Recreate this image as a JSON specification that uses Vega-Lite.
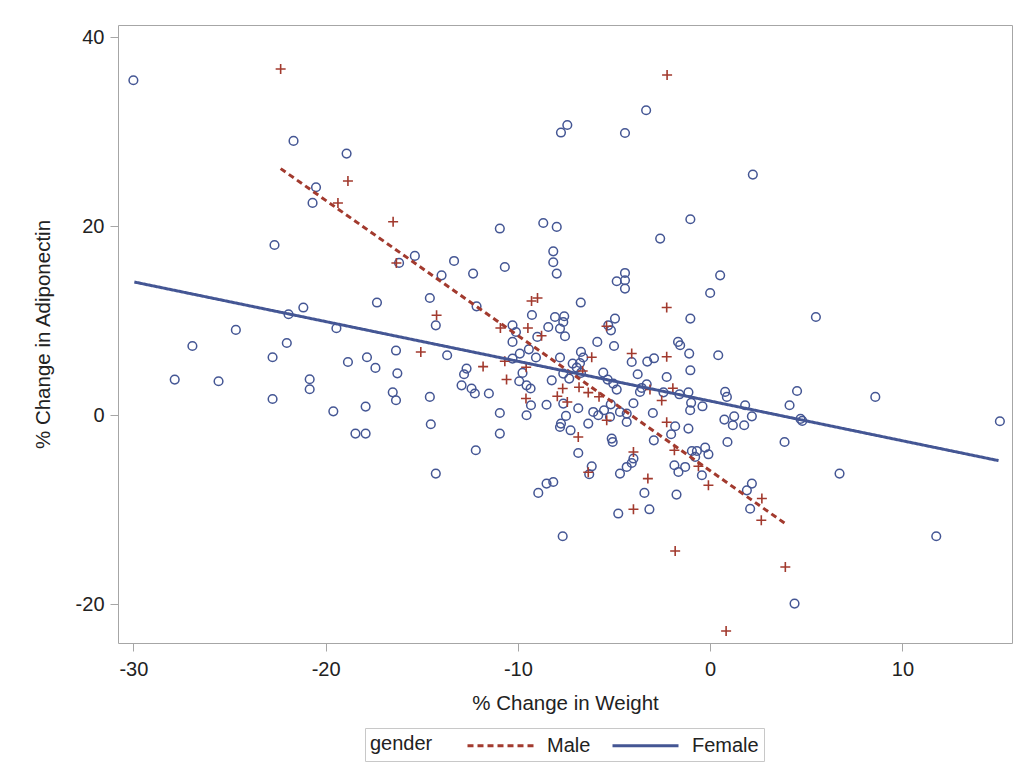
{
  "$schema": "https://vega.github.io/schema/vega-lite/v6.json",
  "width": 894,
  "height": 618,
  "autosize": "none",
  "padding": {"left": 118, "top": 25, "right": 5, "bottom": 127},
  "background": "white",
  "config": {
    "font": "Liberation Sans, Arial, sans-serif",
    "view": {"stroke": "#a6a6a6", "strokeWidth": 1},
    "axis": {
      "grid": false,
      "domain": false,
      "tickColor": "#a6a6a6",
      "tickSize": 8,
      "labelFontSize": 20,
      "labelColor": "#222222",
      "titleFontSize": 20.5,
      "titleFontWeight": "normal",
      "titleColor": "#222222",
      "labelExpr": "toString(datum.value)"
    }
  },
  "datasets": {
    "pts": [
      {"gender":"Male","weight":-22.34,"adiponectin":36.65},
      {"gender":"Male","weight":-18.84,"adiponectin":24.79},
      {"gender":"Male","weight":-19.36,"adiponectin":22.46},
      {"gender":"Male","weight":-16.49,"adiponectin":20.48},
      {"gender":"Male","weight":-16.32,"adiponectin":16.12},
      {"gender":"Male","weight":-15.05,"adiponectin":6.70},
      {"gender":"Male","weight":-2.24,"adiponectin":36.01},
      {"gender":"Male","weight":-9.29,"adiponectin":12.10},
      {"gender":"Male","weight":-8.98,"adiponectin":12.41},
      {"gender":"Male","weight":-2.26,"adiponectin":11.40},
      {"gender":"Male","weight":-14.23,"adiponectin":10.58},
      {"gender":"Male","weight":-5.39,"adiponectin":9.42},
      {"gender":"Male","weight":-10.91,"adiponectin":9.23},
      {"gender":"Male","weight":-9.48,"adiponectin":9.23},
      {"gender":"Male","weight":-8.77,"adiponectin":8.41},
      {"gender":"Male","weight":-4.08,"adiponectin":6.53},
      {"gender":"Male","weight":-2.26,"adiponectin":6.19},
      {"gender":"Male","weight":-11.81,"adiponectin":5.15},
      {"gender":"Male","weight":-10.68,"adiponectin":5.71},
      {"gender":"Male","weight":-9.57,"adiponectin":5.08},
      {"gender":"Male","weight":-10.59,"adiponectin":3.78},
      {"gender":"Male","weight":-6.16,"adiponectin":6.14},
      {"gender":"Male","weight":-6.63,"adiponectin":4.69},
      {"gender":"Male","weight":-6.82,"adiponectin":2.96},
      {"gender":"Male","weight":-6.34,"adiponectin":2.40},
      {"gender":"Male","weight":-5.78,"adiponectin":1.96},
      {"gender":"Male","weight":-7.67,"adiponectin":2.83},
      {"gender":"Male","weight":-7.95,"adiponectin":2.01},
      {"gender":"Male","weight":-7.43,"adiponectin":1.41},
      {"gender":"Male","weight":-9.58,"adiponectin":1.77},
      {"gender":"Male","weight":-5.38,"adiponectin":-0.53},
      {"gender":"Male","weight":-1.94,"adiponectin":2.86},
      {"gender":"Male","weight":-2.52,"adiponectin":1.56},
      {"gender":"Male","weight":-3.13,"adiponectin":2.72},
      {"gender":"Male","weight":-2.26,"adiponectin":-0.74},
      {"gender":"Male","weight":-6.86,"adiponectin":-2.30},
      {"gender":"Male","weight":-3.99,"adiponectin":-3.88},
      {"gender":"Male","weight":-6.34,"adiponectin":-6.03},
      {"gender":"Male","weight":-3.99,"adiponectin":-9.95},
      {"gender":"Male","weight":-3.24,"adiponectin":-6.70},
      {"gender":"Male","weight":-1.86,"adiponectin":-3.70},
      {"gender":"Male","weight":-1.82,"adiponectin":-14.36},
      {"gender":"Male","weight":-0.61,"adiponectin":-5.40},
      {"gender":"Male","weight":-0.09,"adiponectin":-7.41},
      {"gender":"Male","weight":2.69,"adiponectin":-8.81},
      {"gender":"Male","weight":2.66,"adiponectin":-11.11},
      {"gender":"Male","weight":3.91,"adiponectin":-16.05},
      {"gender":"Male","weight":0.83,"adiponectin":-22.83},
      {"gender":"Female","weight":-30.0,"adiponectin":35.45},
      {"gender":"Female","weight":-21.67,"adiponectin":29.03},
      {"gender":"Female","weight":-18.91,"adiponectin":27.69},
      {"gender":"Female","weight":-20.5,"adiponectin":24.13},
      {"gender":"Female","weight":-20.68,"adiponectin":22.47},
      {"gender":"Female","weight":-3.33,"adiponectin":32.28},
      {"gender":"Female","weight":-7.43,"adiponectin":30.72},
      {"gender":"Female","weight":-7.76,"adiponectin":29.92},
      {"gender":"Female","weight":-4.43,"adiponectin":29.87},
      {"gender":"Female","weight":-1.03,"adiponectin":20.74},
      {"gender":"Female","weight":-10.94,"adiponectin":19.76},
      {"gender":"Female","weight":-8.68,"adiponectin":20.35},
      {"gender":"Female","weight":-7.98,"adiponectin":19.93},
      {"gender":"Female","weight":2.22,"adiponectin":25.47},
      {"gender":"Female","weight":-22.66,"adiponectin":18.02},
      {"gender":"Female","weight":-15.36,"adiponectin":16.86},
      {"gender":"Female","weight":-16.18,"adiponectin":16.12},
      {"gender":"Female","weight":-17.33,"adiponectin":11.93},
      {"gender":"Female","weight":-21.16,"adiponectin":11.40},
      {"gender":"Female","weight":-21.93,"adiponectin":10.69},
      {"gender":"Female","weight":-19.44,"adiponectin":9.21},
      {"gender":"Female","weight":-24.67,"adiponectin":9.03},
      {"gender":"Female","weight":-26.93,"adiponectin":7.33},
      {"gender":"Female","weight":-22.02,"adiponectin":7.65},
      {"gender":"Female","weight":-22.76,"adiponectin":6.14},
      {"gender":"Female","weight":-18.84,"adiponectin":5.64},
      {"gender":"Female","weight":-17.85,"adiponectin":6.14},
      {"gender":"Female","weight":-17.41,"adiponectin":5.01},
      {"gender":"Female","weight":-16.34,"adiponectin":6.85},
      {"gender":"Female","weight":-16.27,"adiponectin":4.44},
      {"gender":"Female","weight":-27.85,"adiponectin":3.78},
      {"gender":"Female","weight":-25.57,"adiponectin":3.60},
      {"gender":"Female","weight":-20.83,"adiponectin":3.81},
      {"gender":"Female","weight":-20.83,"adiponectin":2.75},
      {"gender":"Female","weight":-22.76,"adiponectin":1.72},
      {"gender":"Female","weight":-16.51,"adiponectin":2.43},
      {"gender":"Female","weight":-16.34,"adiponectin":1.59},
      {"gender":"Female","weight":-19.6,"adiponectin":0.42},
      {"gender":"Female","weight":-17.92,"adiponectin":0.92},
      {"gender":"Female","weight":-18.45,"adiponectin":-1.94},
      {"gender":"Female","weight":-17.92,"adiponectin":-1.94},
      {"gender":"Female","weight":-13.32,"adiponectin":16.33},
      {"gender":"Female","weight":-12.33,"adiponectin":14.99},
      {"gender":"Female","weight":-13.97,"adiponectin":14.81},
      {"gender":"Female","weight":-14.58,"adiponectin":12.41},
      {"gender":"Female","weight":-12.15,"adiponectin":11.53},
      {"gender":"Female","weight":-14.27,"adiponectin":9.52},
      {"gender":"Female","weight":-13.68,"adiponectin":6.35},
      {"gender":"Female","weight":-12.67,"adiponectin":4.94},
      {"gender":"Female","weight":-12.8,"adiponectin":4.34},
      {"gender":"Female","weight":-12.93,"adiponectin":3.17},
      {"gender":"Female","weight":-12.41,"adiponectin":2.83},
      {"gender":"Female","weight":-12.24,"adiponectin":2.30},
      {"gender":"Female","weight":-14.58,"adiponectin":1.94},
      {"gender":"Female","weight":-14.53,"adiponectin":-0.95},
      {"gender":"Female","weight":-11.51,"adiponectin":2.30},
      {"gender":"Female","weight":-10.94,"adiponectin":0.24},
      {"gender":"Female","weight":-10.94,"adiponectin":-1.94},
      {"gender":"Female","weight":-10.68,"adiponectin":15.69},
      {"gender":"Female","weight":-8.16,"adiponectin":17.35},
      {"gender":"Female","weight":-8.16,"adiponectin":16.19},
      {"gender":"Female","weight":-7.98,"adiponectin":14.99},
      {"gender":"Female","weight":-2.60,"adiponectin":18.70},
      {"gender":"Female","weight":-4.43,"adiponectin":15.06},
      {"gender":"Female","weight":-4.86,"adiponectin":14.18},
      {"gender":"Female","weight":-4.43,"adiponectin":14.29},
      {"gender":"Female","weight":-4.43,"adiponectin":13.41},
      {"gender":"Female","weight":0.52,"adiponectin":14.81},
      {"gender":"Female","weight":0.0,"adiponectin":12.94},
      {"gender":"Female","weight":-6.73,"adiponectin":11.93},
      {"gender":"Female","weight":-1.03,"adiponectin":10.23},
      {"gender":"Female","weight":-1.67,"adiponectin":7.76},
      {"gender":"Female","weight":-1.56,"adiponectin":7.41},
      {"gender":"Female","weight":-1.09,"adiponectin":6.53},
      {"gender":"Female","weight":0.42,"adiponectin":6.35},
      {"gender":"Female","weight":-1.03,"adiponectin":4.76},
      {"gender":"Female","weight":-9.27,"adiponectin":10.61},
      {"gender":"Female","weight":-8.07,"adiponectin":10.40},
      {"gender":"Female","weight":-7.59,"adiponectin":10.48},
      {"gender":"Female","weight":-7.64,"adiponectin":9.87},
      {"gender":"Female","weight":-7.81,"adiponectin":9.17},
      {"gender":"Female","weight":-8.42,"adiponectin":9.34},
      {"gender":"Female","weight":-7.55,"adiponectin":8.36},
      {"gender":"Female","weight":-4.95,"adiponectin":10.23},
      {"gender":"Female","weight":-5.3,"adiponectin":9.52},
      {"gender":"Female","weight":-5.16,"adiponectin":8.99},
      {"gender":"Female","weight":-10.28,"adiponectin":9.52},
      {"gender":"Female","weight":-10.1,"adiponectin":8.81},
      {"gender":"Female","weight":-8.99,"adiponectin":8.29},
      {"gender":"Female","weight":-10.28,"adiponectin":7.76},
      {"gender":"Female","weight":-5.87,"adiponectin":7.76},
      {"gender":"Female","weight":-5.0,"adiponectin":7.33},
      {"gender":"Female","weight":-4.08,"adiponectin":5.64},
      {"gender":"Female","weight":-9.43,"adiponectin":6.98},
      {"gender":"Female","weight":-9.9,"adiponectin":6.53},
      {"gender":"Female","weight":-9.06,"adiponectin":6.11},
      {"gender":"Female","weight":-10.28,"adiponectin":6.0},
      {"gender":"Female","weight":-7.81,"adiponectin":6.11},
      {"gender":"Female","weight":-6.72,"adiponectin":6.70},
      {"gender":"Female","weight":-6.60,"adiponectin":6.11},
      {"gender":"Female","weight":-6.77,"adiponectin":5.53},
      {"gender":"Female","weight":-7.15,"adiponectin":5.47},
      {"gender":"Female","weight":-9.76,"adiponectin":4.48},
      {"gender":"Female","weight":-9.93,"adiponectin":3.60},
      {"gender":"Female","weight":-7.64,"adiponectin":4.41},
      {"gender":"Female","weight":-7.33,"adiponectin":3.88},
      {"gender":"Female","weight":-6.94,"adiponectin":5.05},
      {"gender":"Female","weight":-6.72,"adiponectin":4.48},
      {"gender":"Female","weight":-8.24,"adiponectin":3.70},
      {"gender":"Female","weight":-9.55,"adiponectin":3.17},
      {"gender":"Female","weight":-9.34,"adiponectin":2.83},
      {"gender":"Female","weight":-9.32,"adiponectin":1.06},
      {"gender":"Female","weight":-8.51,"adiponectin":1.11},
      {"gender":"Female","weight":-5.56,"adiponectin":4.52},
      {"gender":"Female","weight":-5.33,"adiponectin":3.78},
      {"gender":"Female","weight":-5.04,"adiponectin":3.35},
      {"gender":"Female","weight":-4.86,"adiponectin":2.72},
      {"gender":"Female","weight":-7.64,"adiponectin":1.24},
      {"gender":"Female","weight":-6.86,"adiponectin":0.74},
      {"gender":"Female","weight":-6.08,"adiponectin":0.35},
      {"gender":"Female","weight":-5.82,"adiponectin":0.0},
      {"gender":"Female","weight":-5.52,"adiponectin":0.53},
      {"gender":"Female","weight":-5.17,"adiponectin":1.16},
      {"gender":"Female","weight":-5.21,"adiponectin":-0.18},
      {"gender":"Female","weight":-4.69,"adiponectin":0.35},
      {"gender":"Female","weight":-4.34,"adiponectin":0.18},
      {"gender":"Female","weight":-4.34,"adiponectin":-0.71},
      {"gender":"Female","weight":-3.99,"adiponectin":1.27},
      {"gender":"Female","weight":-7.5,"adiponectin":-0.07},
      {"gender":"Female","weight":-7.76,"adiponectin":-0.88},
      {"gender":"Female","weight":-7.81,"adiponectin":-1.24},
      {"gender":"Female","weight":-7.26,"adiponectin":-1.59},
      {"gender":"Female","weight":-9.55,"adiponectin":0.0},
      {"gender":"Female","weight":-6.34,"adiponectin":-0.88},
      {"gender":"Female","weight":-12.19,"adiponectin":-3.70},
      {"gender":"Female","weight":-6.86,"adiponectin":-3.99},
      {"gender":"Female","weight":-5.12,"adiponectin":-2.47},
      {"gender":"Female","weight":-5.07,"adiponectin":-2.83},
      {"gender":"Female","weight":-3.99,"adiponectin":-4.58},
      {"gender":"Female","weight":-4.08,"adiponectin":-5.05},
      {"gender":"Female","weight":-4.34,"adiponectin":-5.47},
      {"gender":"Female","weight":-4.69,"adiponectin":-6.17},
      {"gender":"Female","weight":-6.16,"adiponectin":-5.40},
      {"gender":"Female","weight":-6.29,"adiponectin":-6.24},
      {"gender":"Female","weight":-8.16,"adiponectin":-7.06},
      {"gender":"Female","weight":-8.51,"adiponectin":-7.23},
      {"gender":"Female","weight":-8.94,"adiponectin":-8.22},
      {"gender":"Female","weight":-14.27,"adiponectin":-6.17},
      {"gender":"Female","weight":-7.67,"adiponectin":-12.80},
      {"gender":"Female","weight":-4.78,"adiponectin":-10.40},
      {"gender":"Female","weight":-3.16,"adiponectin":-9.95},
      {"gender":"Female","weight":-3.42,"adiponectin":-8.22},
      {"gender":"Female","weight":-2.93,"adiponectin":-2.65},
      {"gender":"Female","weight":-2.03,"adiponectin":-2.01},
      {"gender":"Female","weight":-1.86,"adiponectin":-5.29},
      {"gender":"Female","weight":-1.65,"adiponectin":-6.0},
      {"gender":"Female","weight":-1.30,"adiponectin":-5.47},
      {"gender":"Female","weight":-1.75,"adiponectin":-8.39},
      {"gender":"Female","weight":-0.95,"adiponectin":-3.78},
      {"gender":"Female","weight":-0.69,"adiponectin":-3.78},
      {"gender":"Female","weight":-0.26,"adiponectin":-3.42},
      {"gender":"Female","weight":-0.78,"adiponectin":-4.41},
      {"gender":"Female","weight":-0.09,"adiponectin":-4.13},
      {"gender":"Female","weight":-0.43,"adiponectin":-6.35},
      {"gender":"Female","weight":-3.27,"adiponectin":5.68},
      {"gender":"Female","weight":-2.92,"adiponectin":6.03},
      {"gender":"Female","weight":-3.77,"adiponectin":4.34},
      {"gender":"Female","weight":-3.30,"adiponectin":3.28},
      {"gender":"Female","weight":-3.56,"adiponectin":2.89},
      {"gender":"Female","weight":-3.65,"adiponectin":2.47},
      {"gender":"Female","weight":-2.26,"adiponectin":4.05},
      {"gender":"Female","weight":-2.43,"adiponectin":2.43},
      {"gender":"Female","weight":-1.60,"adiponectin":2.22},
      {"gender":"Female","weight":-1.13,"adiponectin":2.43},
      {"gender":"Female","weight":-0.99,"adiponectin":1.32},
      {"gender":"Female","weight":-1.04,"adiponectin":0.53},
      {"gender":"Female","weight":-0.40,"adiponectin":0.95},
      {"gender":"Female","weight":-2.98,"adiponectin":0.24},
      {"gender":"Female","weight":-1.13,"adiponectin":-1.41},
      {"gender":"Female","weight":-1.82,"adiponectin":-1.16},
      {"gender":"Female","weight":0.90,"adiponectin":-2.83},
      {"gender":"Female","weight":0.78,"adiponectin":2.47},
      {"gender":"Female","weight":0.87,"adiponectin":1.94},
      {"gender":"Female","weight":0.74,"adiponectin":-0.46},
      {"gender":"Female","weight":1.25,"adiponectin":-0.11},
      {"gender":"Female","weight":1.18,"adiponectin":-1.06},
      {"gender":"Female","weight":1.77,"adiponectin":-1.06},
      {"gender":"Female","weight":2.17,"adiponectin":-0.11},
      {"gender":"Female","weight":1.82,"adiponectin":1.06},
      {"gender":"Female","weight":4.13,"adiponectin":1.06},
      {"gender":"Female","weight":3.87,"adiponectin":-2.83},
      {"gender":"Female","weight":2.17,"adiponectin":-7.23},
      {"gender":"Female","weight":1.91,"adiponectin":-7.94},
      {"gender":"Female","weight":2.08,"adiponectin":-9.89},
      {"gender":"Female","weight":5.5,"adiponectin":10.40},
      {"gender":"Female","weight":4.52,"adiponectin":2.57},
      {"gender":"Female","weight":8.59,"adiponectin":1.94},
      {"gender":"Female","weight":4.70,"adiponectin":-0.39},
      {"gender":"Female","weight":4.79,"adiponectin":-0.60},
      {"gender":"Female","weight":15.07,"adiponectin":-0.63},
      {"gender":"Female","weight":6.73,"adiponectin":-6.17},
      {"gender":"Female","weight":11.76,"adiponectin":-12.80},
      {"gender":"Female","weight":4.39,"adiponectin":-19.93}
    ],
    "fit": [
      {"gender":"Male","weight":-22.34,"adiponectin":26.1},
      {"gender":"Male","weight":3.9,"adiponectin":-11.46},
      {"gender":"Female","weight":-29.95,"adiponectin":14.1},
      {"gender":"Female","weight":15.0,"adiponectin":-4.8}
    ]
  },
  "layer": [
    {
      "data": {"name": "pts"},
      "transform": [{"filter": "datum.gender === 'Female'"}],
      "mark": {"type": "point", "shape": "circle", "filled": false, "stroke": "#445694", "strokeWidth": 1.5, "size": 75, "opacity": 1},
      "encoding": {
        "x": {"field": "weight", "type": "quantitative", "scale": {"domain": [-30.8, 15.7], "nice": false, "zero": false},
              "axis": {"values": [-30, -20, -10, 0, 10], "title": "% Change in Weight", "labelPadding": 8, "titlePadding": 14}},
        "y": {"field": "adiponectin", "type": "quantitative", "scale": {"domain": [-24.1, 41.3], "nice": false, "zero": false},
              "axis": {"values": [-20, 0, 20, 40], "title": "% Change in Adiponectin", "labelPadding": 6, "titlePadding": 22}}
      }
    },
    {
      "data": {"name": "pts"},
      "transform": [{"filter": "datum.gender === 'Male'"}],
      "mark": {"type": "point", "shape": "M-1,0L1,0M0,-1L0,1", "filled": false, "stroke": "#A23A2E", "strokeWidth": 1.6, "size": 100, "opacity": 1},
      "encoding": {
        "x": {"field": "weight", "type": "quantitative"},
        "y": {"field": "adiponectin", "type": "quantitative"}
      }
    },
    {
      "data": {"name": "fit"},
      "mark": {"type": "line", "strokeWidth": 3},
      "encoding": {
        "x": {"field": "weight", "type": "quantitative"},
        "y": {"field": "adiponectin", "type": "quantitative"},
        "color": {"field": "gender", "type": "nominal",
                  "scale": {"domain": ["Male", "Female"], "range": ["#A23A2E", "#445694"]},
                  "legend": {"title": "gender", "orient": "none", "legendX": 247, "legendY": 703,
                             "direction": "horizontal", "titleOrient": "left", "titleAnchor": "middle",
                             "titleFontSize": 20, "titleFontWeight": "normal", "titleColor": "#222222", "titlePadding": 33,
                             "labelFontSize": 20, "labelColor": "#222222", "labelOffset": 56, "columnPadding": 15,
                             "symbolType": "M-1,0L5,0", "symbolSize": 484, "symbolStrokeWidth": 3,
                             "strokeColor": "#c8c8c8", "padding": 5}},
        "strokeDash": {"field": "gender", "type": "nominal",
                       "scale": {"domain": ["Male", "Female"], "range": [[6, 4], [1, 0]]}}
      }
    }
  ]
}
